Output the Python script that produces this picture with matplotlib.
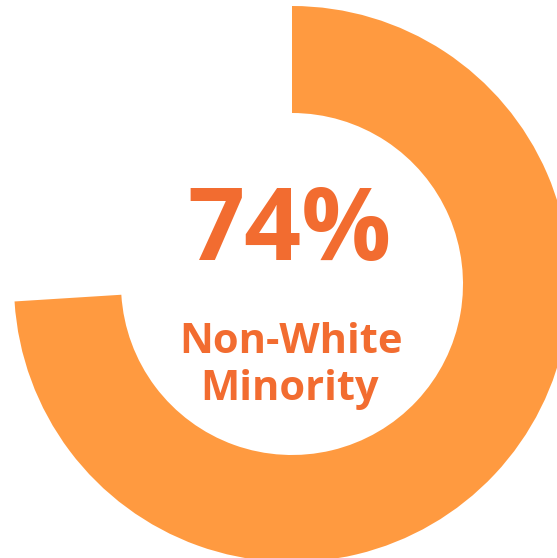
import matplotlib
matplotlib.use("Agg")
import matplotlib.pyplot as plt

share_value = 74
share_label = "74%"
caption_lines = ["Non-White", "Minority"]

W, H = 557, 558
fig = plt.figure(figsize=(W / 100, H / 100), dpi=100)
ax = fig.add_axes([0, 0, 1, 1])

ring_color = "#FF9A40"
text_color = "#F26C30"

cx, cy = 292, H - 284
ax.pie([share_value, 100 - share_value], colors=[ring_color, "none"],
       startangle=90, counterclock=False, center=(cx, cy), radius=278,
       wedgeprops=dict(width=107, linewidth=0))
ax.set_xlim(0, W)
ax.set_ylim(0, H)
ax.set_aspect("equal")
ax.axis("off")

ax.text(289, H - 260, share_label, ha="center", va="baseline",
        fontsize=72, fontweight="bold", family="Open Sans", color=text_color)
ax.text(291, H - 353, caption_lines[0], ha="center", va="baseline",
        fontsize=30, fontweight="bold", family="Open Sans", color=text_color)
ax.text(290, H - 400, caption_lines[1], ha="center", va="baseline",
        fontsize=30, fontweight="bold", family="Open Sans", color=text_color)

fig.savefig("out.png", dpi=100, facecolor="white")
